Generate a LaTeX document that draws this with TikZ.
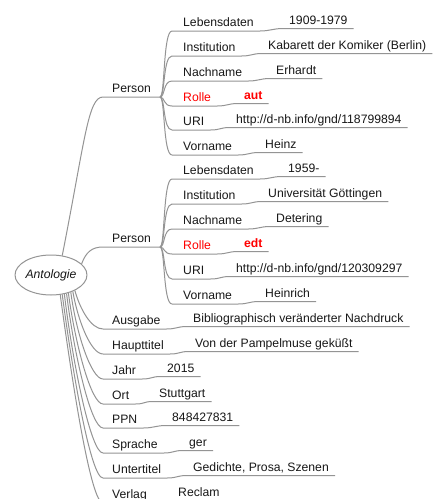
\documentclass[tikz,border=0pt]{standalone}
\usepackage{fontspec}
\setmainfont{Liberation Sans}
\usetikzlibrary{shapes.geometric}
\definecolor{lc}{RGB}{148,148,148}
\definecolor{tc}{RGB}{24,24,24}
\definecolor{rc}{RGB}{255,0,0}
\tikzset{
  conn/.style={draw=lc, line width=1pt},
  keyn/.style={inner sep=0pt, text depth=4pt, text height=9pt, anchor=south west, text=tc},
  valn/.style={inner sep=0pt, text depth=4pt, text height=9pt, anchor=south west, text=tc},
  redkey/.style={text=rc},
  redval/.style={text=rc, font=\fontsize{12.2}{14}\selectfont\bfseries},
  plain/.style={}
}
% #1 name, #2 line start x, #3 key text x, #4 underline y, #5 key, #6 value x, #7 value, #8 key style, #9 value style
\newcommand\kvpair[9]{%
  \node[keyn,#8] (#1k) at (#3,#4) {#5};
  \node[valn,#9] (#1v) at (#6,#4-2.5) {#7};
  \coordinate (#1s) at (#2,#4);
  \draw[conn] (#1s) -- ([xshift=6pt]#1k.south east)
     .. controls +(10pt,0pt) and +(-10pt,0pt) .. ([xshift=-6pt]#1v.south west)
     -- ([xshift=6pt]#1v.south east);
}
\begin{document}
\begin{tikzpicture}[x=1pt,y=-1pt,font=\fontsize{12.2}{14}\selectfont]
\useasboundingbox (0,0) rectangle (433,499);
\fill[white] (0,0) rectangle (433,499);

% root
\node[draw=lc, line width=1pt, ellipse, minimum width=70pt, minimum height=40pt,
      inner sep=0pt, font=\fontsize{12.2}{14}\selectfont\itshape, text=tc, fill=white] (root) at (51,275) {Antologie};

% Person 1
\node[keyn] (p1) at (112,97) {Person};
\coordinate (p1s) at (103,97);
\coordinate (p1e) at ([xshift=9pt]p1.south east);
\draw[conn] (root.60) .. controls (85,140) and (88,97) .. (p1s) -- (p1e);

\kvpair{l1}{172}{183}{31}{Lebensdaten}{289}{1909-1979}{plain}{plain}
\kvpair{i1}{172}{183}{56}{Institution}{268}{Kabarett der Komiker (Berlin)}{plain}{plain}
\kvpair{n1}{172}{183}{81}{Nachname}{276}{Erhardt}{plain}{plain}
\kvpair{r1}{172}{183}{106}{Rolle}{244}{aut}{redkey}{redval}
\kvpair{u1}{172}{183}{130}{URI}{236}{http://d-nb.info/gnd/118799894}{plain}{plain}
\kvpair{v1}{172}{183}{155}{Vorname}{265}{Heinz}{plain}{plain}
\foreach \c in {l1s,i1s,n1s,r1s,u1s,v1s}
  \draw[conn] (p1e) .. controls +(5pt,0pt) and +(-9pt,0pt) .. (\c);

% Person 2
\node[keyn] (p2) at (112,247) {Person};
\coordinate (p2s) at (103,247);
\coordinate (p2e) at ([xshift=9pt]p2.south east);
\draw[conn] (root.20) .. controls (86,252) and (92,247) .. (p2s) -- (p2e);

\kvpair{l2}{172}{183}{179}{Lebensdaten}{288}{1959-}{plain}{plain}
\kvpair{i2}{172}{183}{204}{Institution}{268}{Universität Göttingen}{plain}{plain}
\kvpair{n2}{172}{183}{229}{Nachname}{276}{Detering}{plain}{plain}
\kvpair{r2}{172}{183}{254}{Rolle}{244}{edt}{redkey}{redval}
\kvpair{u2}{172}{183}{279}{URI}{236}{http://d-nb.info/gnd/120309297}{plain}{plain}
\kvpair{v2}{172}{183}{304}{Vorname}{265}{Heinrich}{plain}{plain}
\foreach \c in {l2s,i2s,n2s,r2s,u2s,v2s}
  \draw[conn] (p2e) .. controls +(5pt,0pt) and +(-9pt,0pt) .. (\c);

% bottom branches
\kvpair{au}{103}{112}{329}{Ausgabe}{193}{Bibliographisch veränderter Nachdruck}{plain}{plain}
\kvpair{ht}{103}{112}{354}{Haupttitel}{195}{Von der Pampelmuse geküßt}{plain}{plain}
\kvpair{ja}{103}{112}{379}{Jahr}{167}{2015}{plain}{plain}
\kvpair{or}{103}{112}{404}{Ort}{159}{Stuttgart}{plain}{plain}
\kvpair{pp}{103}{112}{428}{PPN}{172}{848427831}{plain}{plain}
\kvpair{sp}{103}{112}{453}{Sprache}{189}{ger}{plain}{plain}
\kvpair{ut}{103}{112}{478}{Untertitel}{193}{Gedichte, Prosa, Szenen}{plain}{plain}
\kvpair{vl}{103}{112}{503}{Verlag}{178}{Reclam}{plain}{plain}

\draw[conn] (root.-33) .. controls (80,309) and (91,329) .. (aus);
\draw[conn] (root.-37) .. controls (78,321) and (91,354) .. (hts);
\draw[conn] (root.-41) .. controls (76,332) and (91,379) .. (jas);
\draw[conn] (root.-46) .. controls (75,343) and (91,404) .. (ors);
\draw[conn] (root.-50) .. controls (74,354) and (91,428) .. (pps);
\draw[conn] (root.-55) .. controls (73,365) and (91,453) .. (sps);
\draw[conn] (root.-60) .. controls (73,376) and (91,478) .. (uts);
\draw[conn] (root.-65) .. controls (73,388) and (91,503) .. (vls);
\end{tikzpicture}
\end{document}
